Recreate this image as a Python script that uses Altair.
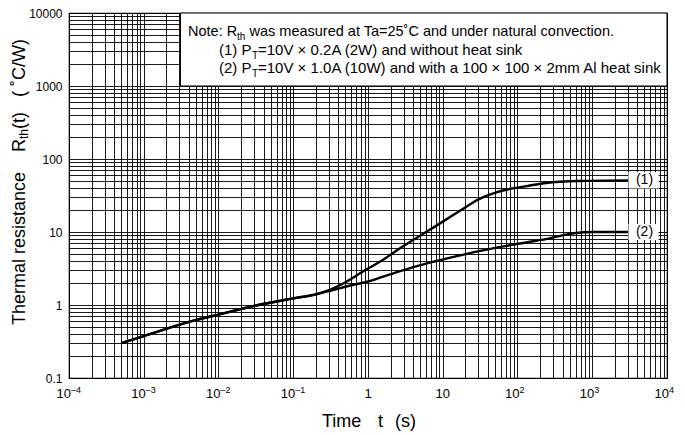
import altair as alt
import pandas as pd

# ---- data ----
t_common = [5e-4, 1e-3, 4.4e-3, 0.01, 0.034, 0.1, 0.2]
r_common = [0.30, 0.375, 0.60, 0.74, 1.0, 1.23, 1.40]

t_1 = [0.32, 0.5, 0.9, 1.5, 2.5, 6.7, 19, 30, 52, 75, 100, 142, 240, 660, 3000]
r_1 = [1.64, 2.05, 2.97, 4.0, 5.7, 10.7, 21, 28, 35, 38.5, 40.5, 43, 47, 50, 51]

t_2 = [0.32, 0.58, 1.0, 2.5, 6.7, 19, 52, 142, 240, 400, 600, 1000, 3000]
r_2 = [1.57, 1.85, 2.1, 2.85, 3.8, 4.9, 6.1, 7.3, 8.0, 9.0, 9.7, 10.0, 10.0]

curve_names = ["(1)", "(2)"]
curve_end_r = [51, 10.0]

x_tick_values = [1e-4, 1e-3, 1e-2, 1e-1, 1, 10, 1e2, 1e3, 1e4]
x_tick_base = ["10", "10", "10", "10", "1", "10", "10", "10", "10"]
x_tick_exp = ["–4", "–3", "–2", "–1", "", "", "2", "3", "4"]
y_ticks = ["0.1", "1", "10", "100", "1000", "10000"]

rows = []
for name, ts, rs in ((curve_names[0], t_1, r_1), (curve_names[1], t_2, r_2)):
    for t, r in zip(t_common, r_common):
        rows.append({"curve": name, "t": t, "r": r})
    for t, r in zip(ts, rs):
        rows.append({"curve": name, "t": t, "r": r})
df = pd.DataFrame(rows)

lab = pd.DataFrame({
    "name": curve_names,
    "t": [5000, 5000],
    "r": curve_end_r,
    "tl": [3050, 3050],
    "th": [7700, 7700],
    "rl": [r / 1.29 for r in curve_end_r],
    "rh": [r * 1.29 for r in curve_end_r],
})

ticks = pd.DataFrame({"v": x_tick_values, "base": x_tick_base, "exp": x_tick_exp})
ticks_sup = ticks[ticks["exp"] != ""]
ticks_plain = ticks[ticks["exp"] == ""]

box = pd.DataFrame({"x1": [3.1e-3], "x2": [1e4], "y1": [1000], "y2": [1e4]})

grid_x = [k * 10.0 ** e for e in range(-4, 4) for k in range(1, 10)] + [1e4]
grid_y = [k * 10.0 ** e for e in range(-1, 4) for k in range(1, 10)] + [1e4]

FONT = "Liberation Sans"
dec = "abs(log(datum.value)/LN10 - round(log(datum.value)/LN10)) < 1e-6"
ylab = "[" + ",".join("'%s'" % s for s in y_ticks) + "]"

xscale = alt.Scale(type="log", domain=[1e-4, 1e4], nice=False)
yscale = alt.Scale(type="log", domain=[0.1, 1e4], nice=False)

lines = alt.Chart(df).mark_line(color="black", strokeWidth=2.4, interpolate="monotone").encode(
    x=alt.X("t:Q", scale=xscale, axis=alt.Axis(
        values=grid_x, title=None, grid=True, gridColor="black", gridOpacity=1, gridWidth=0.9,
        ticks=False, domain=False, labels=False, zindex=0)),
    y=alt.Y("r:Q", scale=yscale, axis=alt.Axis(
        values=grid_y, title=None, grid=True, gridColor="black", gridOpacity=1, gridWidth=0.9,
        ticks=False, domain=False, labelFont=FONT, labelFontSize=12, labelColor="black",
        labelPadding=7, labelOverlap=False, labelFlush=False, zindex=0,
        labelExpr="%s ? %s[round(log(datum.value)/LN10)+1] : ''" % (dec, ylab))),
    detail="curve:N",
)

TICK_Y = 385
xt_base = alt.Chart(ticks_sup).mark_text(font=FONT, fontSize=13, color="black", align="right",
                                         baseline="alphabetic", dx=2).encode(
    x="v:Q", y=alt.value(TICK_Y), text="base:N")
xt_exp = alt.Chart(ticks_sup).mark_text(font=FONT, fontSize=9, color="black", align="left",
                                        baseline="alphabetic", dx=2).encode(
    x="v:Q", y=alt.value(TICK_Y - 5), text="exp:N")
xt_plain = alt.Chart(ticks_plain).mark_text(font=FONT, fontSize=13, color="black", align="center",
                                            baseline="alphabetic").encode(
    x="v:Q", y=alt.value(TICK_Y), text="base:N")

note_box = alt.Chart(box).mark_rect(fill="white", stroke="black", strokeWidth=1).encode(
    x="x1:Q", x2="x2:Q", y="y1:Q", y2="y2:Q")

lab_bg = alt.Chart(lab).mark_rect(fill="white", strokeWidth=0).encode(
    x="tl:Q", x2="th:Q", y="rl:Q", y2="rh:Q")
lab_txt = alt.Chart(lab).mark_text(font=FONT, fontSize=14, color="black",
                                   align="center", baseline="middle").encode(
    x="t:Q", y="r:Q", text="name:N")

one = pd.DataFrame({"k": [0]})

def txt(s, x, y, size=13, align="left", baseline="alphabetic", angle=0):
    kw = dict(text=s, font=FONT, fontSize=size, color="black", align=align, baseline=baseline)
    if angle:
        kw["angle"] = angle
    return alt.Chart(one).mark_text(**kw).encode(x=alt.value(x), y=alt.value(y))

note = [
    txt("Note: R", 119, 23, size=14.5), txt("th", 168, 26.5, size=10),
    txt("was measured at Ta=25˚C and under natural convection.", 180.5, 23, size=14.5),
    txt("(1) P", 150, 42, size=15), txt("T", 183, 45.5, size=10),
    txt("=10V × 0.2A (2W) and without heat sink", 189, 42, size=15),
    txt("(2) P", 150, 60, size=15), txt("T", 183, 63.5, size=10),
    txt("=10V × 1.0A (10W) and with a 100 × 100 × 2mm Al heat sink", 189, 60, size=15),
]

titles = [
    txt("Thermal resistance", -49, 312, size=18, baseline="middle", angle=270),
    txt("R", -49, 139, size=18, baseline="middle", angle=270),
    txt("th", -45, 126, size=12, baseline="middle", angle=270),
    txt("(t)", -49, 116, size=18, baseline="middle", angle=270),
    txt("( ˚C/W)", -49, 84, size=18, baseline="middle", angle=270),
    txt("Time", 253, 409, size=18, baseline="middle"),
    txt("t", 309, 409, size=18, baseline="middle"),
    txt("(s)", 326, 409, size=18, baseline="middle"),
]

chart = alt.layer(lines, note_box, *note, lab_bg, lab_txt, xt_base, xt_exp, xt_plain, *titles).properties(
    width=598, height=365,
    autosize=alt.AutoSizeParams(type="none"),
    padding={"left": 61, "top": 5, "right": 10, "bottom": 56},
).configure_view(stroke="black", strokeWidth=1.2)

chart.save("out.html", embed_options={"renderer": "svg", "actions": False})
